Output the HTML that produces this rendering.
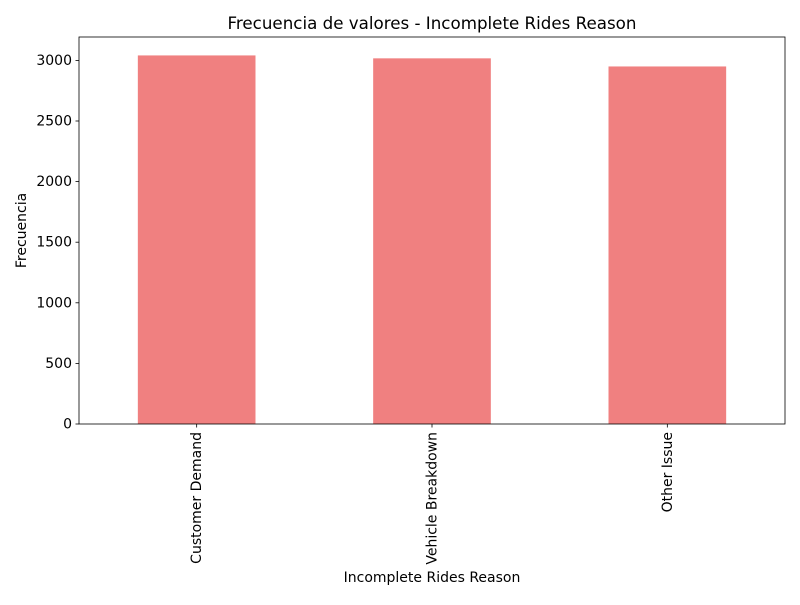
<!DOCTYPE html>
<html><head><meta charset="utf-8"><style>
body{margin:0;background:#fff;}
svg text{font-family:"DejaVu Sans","Liberation Sans",sans-serif;}
</style></head><body>
<svg id="chart" width="800" height="600" xmlns="http://www.w3.org/2000/svg">
<rect width="800" height="600" fill="#fff"/>
<text x="432" y="29" font-size="16.7" text-anchor="middle">Frecuencia de valores - Incomplete Rides Reason</text>
<g id="plot"></g>
<text x="432" y="582" font-size="14" text-anchor="middle">Incomplete Rides Reason</text>
<text transform="translate(26,230.5) rotate(-90)" font-size="14" text-anchor="middle">Frecuencia</text>
</svg>
<script>
const categories = ["Customer Demand","Vehicle Breakdown","Other Issue"];
const values = [3041, 3017, 2950];
const yTicks = [0,500,1000,1500,2000,2500,3000];
const L=79,R=785,T=37,B=424;
const yMax = Math.max(...values)*1.05;
const y = v => B - v/yMax*(B-T);
const step = (R-L)/categories.length;
const x = i => L + step*(i+0.5);
const g = document.getElementById('plot');
const NS='http://www.w3.org/2000/svg';
function mk(t,a){const e=document.createElementNS(NS,t);for(const k in a)e.setAttribute(k,a[k]);g.appendChild(e);return e;}
values.forEach((v,i)=>{
  const r=mk('rect',{x:x(i)-step/4,y:y(v),width:step/2,height:B-y(v),fill:'#f08080'});
  
  
  const tk=mk('line',{x1:x(i),x2:x(i),y1:B,y2:B+3.5,stroke:'#000','stroke-width':0.8});
  
  
  const t=mk('text',{transform:`translate(${x(i)+4.5},${B+8}) rotate(-90)`,'font-size':14,'text-anchor':'end'});
  t.textContent=categories[i];
  
  
});
yTicks.forEach(v=>{
  const tk=mk('line',{x1:L-3.5,x2:L,y1:y(v),y2:y(v),stroke:'#000','stroke-width':0.8});
  
  
  const t=mk('text',{x:L-7,y:y(v)+4.5,'font-size':14,'text-anchor':'end'});
  t.textContent=v;
  
  
});
const f=mk('rect',{x:L,y:T,width:R-L,height:B-T,fill:'none',stroke:'#000','stroke-width':0.8});


</script>
</body></html>
